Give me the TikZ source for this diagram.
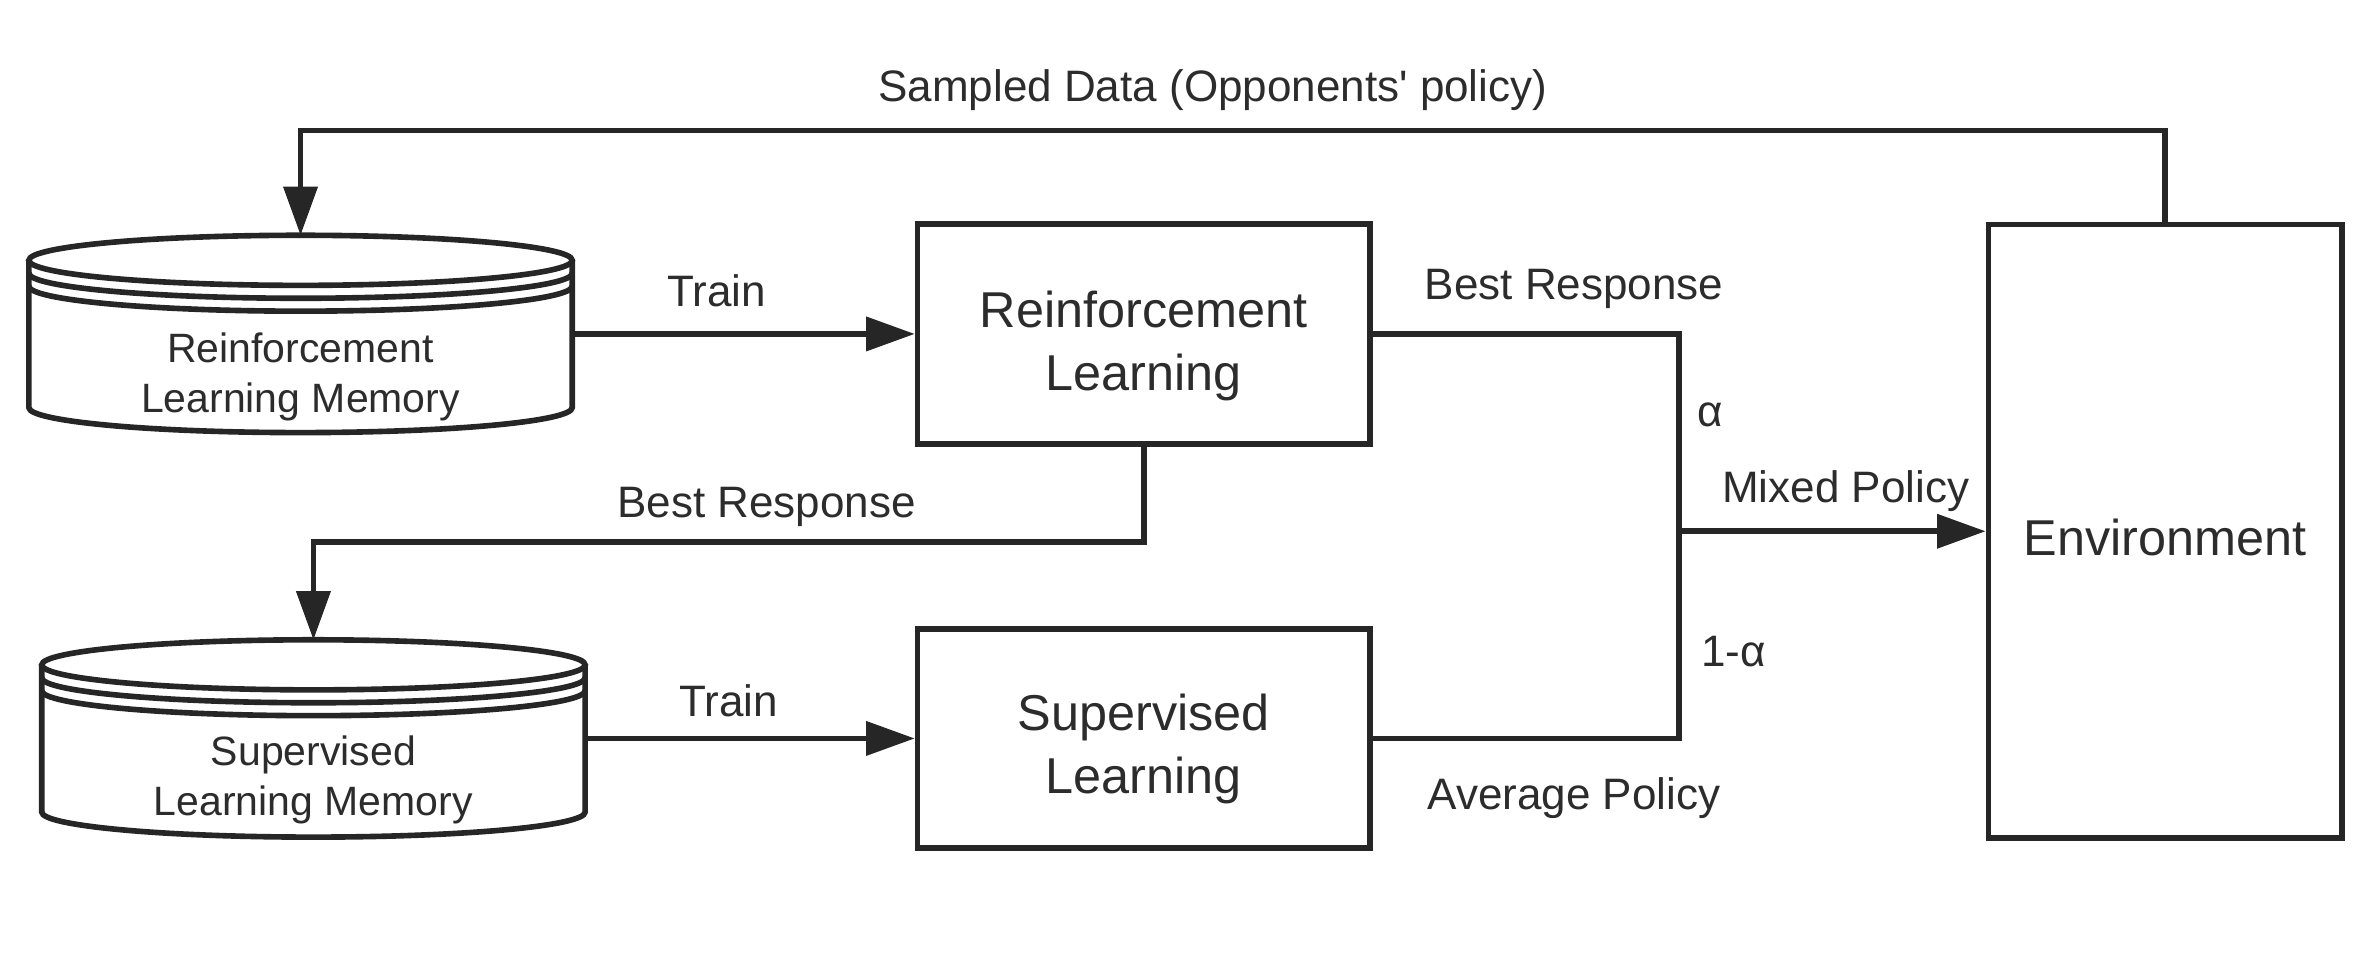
\documentclass[tikz,border=0pt]{standalone}
\usepackage{fontspec}
\setmainfont{Liberation Sans}
\usetikzlibrary{arrows.meta}
\definecolor{ink}{HTML}{262626}
\definecolor{txt}{HTML}{2C2C2C}
\tikzset{
  memory/.pic={
    \draw[fill=white] (-179,-48.5) -- (-179,48.5) arc[start angle=180,end angle=0,x radius=179,y radius=16.5] -- (179,-48.5);
    \draw (0,-48.5) ellipse[x radius=179,y radius=16.5];
    \draw (-179,-40) arc[start angle=180,end angle=0,x radius=179,y radius=16.5];
    \draw (-179,-31.5) arc[start angle=180,end angle=0,x radius=179,y radius=16.5];
  }
}
\begin{document}
\begin{tikzpicture}[x=1pt,y=-1pt,line width=3.7pt,color=ink,
  box/.style={draw=ink,rectangle,inner sep=0pt},
  memnode/.style={rectangle,inner sep=0pt,outer sep=0pt,minimum width=358pt,minimum height=130pt},
  boxtext/.style={font=\fontsize{33.2}{41.5}\selectfont,text=txt,align=center,anchor=base,inner sep=0pt},
  memtext/.style={font=\fontsize{27}{33}\selectfont,text=txt,align=center,anchor=base,inner sep=0pt},
  lbl/.style={font=\fontsize{29}{35}\selectfont,text=txt,anchor=base,inner sep=0pt},
  arr/.style={-{Triangle[length=32pt,width=22pt]}}]
\useasboundingbox (0,0) rectangle (1568,640);

% boxes
\node[box,minimum width=298pt,minimum height=145pt] (rl) at (753.5,220) {};
\node[box,minimum width=298pt,minimum height=144pt] (sl) at (753.5,486.5) {};
\node[box,minimum width=233pt,minimum height=404pt] (env) at (1426.5,350) {};
\node[boxtext] (rltext) at (753.5,257.5) {Reinforcement\\Learning};
\node[boxtext] (sltext) at (753.5,523) {Supervised\\Learning};
\node[boxtext] (envtext) at (1426.5,366) {Environment};

% memories
\node[memnode] (rlm) at (198,220) {};
\pic at (198,220) {memory};
\node[memtext] (rlmtext) at (198,272) {Reinforcement\\Learning Memory};
\node[memnode] (slm) at (206.5,486.5) {};
\pic at (206.5,486.5) {memory};
\node[memtext] (slmtext) at (206.5,537.5) {Supervised\\Learning Memory};

% connectors
\coordinate (topturn) at (1426.5,86);
\draw[arr] (env.north) -- (topturn) -| (rlm.north);
\draw[arr] (rlm.east) -- (rl.west);
\draw[arr] (slm.east) -- (sl.west);
\coordinate (bend) at (753.5,357);
\draw[arr] (rl.south) -- (bend) -| (slm.north);
\coordinate (mix) at (1106,350);
\draw (rl.east) -| (mix) |- (sl.east);
\draw[arr] (mix) -- (env.west);

% labels
\node[lbl] (lsampled) at (799,67) {Sampled Data (Opponents\textquotesingle\ policy)};
\node[lbl] (ltrain1) at (472,202) {Train};
\node[lbl] (ltrain2) at (480,472) {Train};
\node[lbl] (lbest1) at (1037,197) {Best Response};
\node[lbl] (lbest2) at (505,341) {Best Response};
\node[lbl] (lalpha) at (1127,281) {α};
\node[lbl] (lmixed) at (1216,331) {Mixed Policy};
\node[lbl] (lone) at (1142,439) {1-α};
\node[lbl] (lavg) at (1037,533) {Average Policy};
\end{tikzpicture}
\end{document}
